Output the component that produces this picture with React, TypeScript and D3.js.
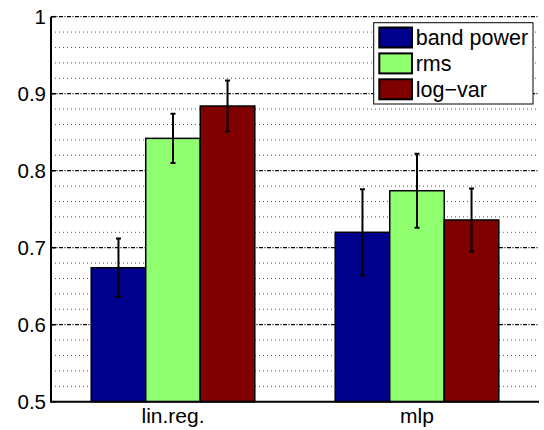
import React, { useRef, useEffect } from "react";
import * as d3 from "d3";

const categories = ["lin.reg.", "mlp"];
const seriesNames = ["band power", "rms", "log\u2212var"];
const seriesColors = ["#00008f", "#8fff70", "#800000"];

const bandPower = [0.674, 0.72];
const bandPowerErr = [0.038, 0.056];
const rms = [0.842, 0.774];
const rmsErr = [0.032, 0.048];
const logVar = [0.884, 0.736];
const logVarErr = [0.033, 0.041];

const yTicks = [0.5, 0.6, 0.7, 0.8, 0.9, 1];
const yMinorTicks = d3.range(0.52, 1.0, 0.02).filter((v) => Math.abs(v * 10 - Math.round(v * 10)) > 0.01);

const series = [
  { name: seriesNames[0], color: seriesColors[0], values: bandPower, errs: bandPowerErr },
  { name: seriesNames[1], color: seriesColors[1], values: rms, errs: rmsErr },
  { name: seriesNames[2], color: seriesColors[2], values: logVar, errs: logVarErr },
];

const FONT = "'Liberation Sans', Helvetica, Arial, sans-serif";

const BarChart = ({ width = 544, height = 430 }) => {
  const svgRef = useRef(null);

  useEffect(() => {
    const margin = { left: 51, top: 16.7, right: 5, bottom: 28.3 };
    const x = d3.scaleLinear().domain([0.5, categories.length + 0.5]).range([margin.left, width - margin.right]);
    const y = d3.scaleLinear().domain([0.5, 1]).range([height - margin.bottom, margin.top]);
    const barW = 0.2235;

    const svg = d3.select(svgRef.current);
    svg.selectAll("*").remove();

    // minor grid
    svg
      .append("g")
      .selectAll("line")
      .data(yMinorTicks)
      .enter()
      .append("line")
      .attr("x1", x.range()[0])
      .attr("x2", x.range()[1])
      .attr("y1", (d) => y(d))
      .attr("y2", (d) => y(d))
      .attr("stroke", "#555")
      .attr("stroke-width", 1)
      .attr("stroke-dasharray", "1,3");

    // major grid
    svg
      .append("g")
      .selectAll("line")
      .data(yTicks.slice(1))
      .enter()
      .append("line")
      .attr("x1", x.range()[0])
      .attr("x2", x.range()[1])
      .attr("y1", (d) => y(d))
      .attr("y2", (d) => y(d))
      .attr("stroke", "#000")
      .attr("stroke-width", 1.2)
      .attr("stroke-dasharray", "4,1.5,1,1.5");

    // bars
    series.forEach((s, si) => {
      const g = svg.append("g");
      g.selectAll("rect")
        .data(s.values)
        .enter()
        .append("rect")
        .attr("x", (d, i) => x(i + 1 + (si - 1.5) * barW))
        .attr("width", x(barW) - x(0))
        .attr("y", (d) => y(d))
        .attr("height", (d) => y(0.5) - y(d))
        .attr("fill", s.color)
        .attr("stroke", "#000")
        .attr("stroke-width", 1.5);

      const cx = (i) => x(i + 1 + (si - 1) * barW);
      g.selectAll("path.err")
        .data(s.values)
        .enter()
        .append("path")
        .attr("class", "err")
        .attr("d", (d, i) => {
          const c = cx(i);
          const t = y(d + s.errs[i]);
          const b = y(d - s.errs[i]);
          return `M${c},${t}V${b}M${c - 2.5},${t}H${c + 2.5}M${c - 2.5},${b}H${c + 2.5}`;
        })
        .attr("fill", "none")
        .attr("stroke", "#000")
        .attr("stroke-width", 2);
    });

    // axes
    const axisG = svg.append("g");
    axisG
      .append("line")
      .attr("x1", x.range()[0])
      .attr("x2", x.range()[1])
      .attr("y1", y(0.5))
      .attr("y2", y(0.5))
      .attr("stroke", "#000")
      .attr("stroke-width", 2);
    axisG
      .append("line")
      .attr("x1", x.range()[0])
      .attr("x2", x.range()[0])
      .attr("y1", y(0.5) + 1)
      .attr("y2", y(1))
      .attr("stroke", "#000")
      .attr("stroke-width", 2);
    axisG
      .selectAll("line.tick")
      .data(yTicks)
      .enter()
      .append("line")
      .attr("class", "tick")
      .attr("x1", x.range()[0])
      .attr("x2", x.range()[0] + 5)
      .attr("y1", (d) => y(d))
      .attr("y2", (d) => y(d))
      .attr("stroke", "#000")
      .attr("stroke-width", 1.5);

    axisG
      .selectAll("text.ylab")
      .data(yTicks)
      .enter()
      .append("text")
      .attr("class", "ylab")
      .attr("x", x.range()[0] - 5)
      .attr("y", (d) => y(d))
      .attr("dy", "0.36em")
      .attr("text-anchor", "end")
      .attr("font-family", FONT)
      .attr("font-size", 20.5)
      .text((d) => d3.format("~g")(d));

    axisG
      .selectAll("text.xlab")
      .data(categories)
      .enter()
      .append("text")
      .attr("class", "xlab")
      .attr("x", (d, i) => x(i + 1))
      .attr("y", 423)
      .attr("text-anchor", "middle")
      .attr("font-family", FONT)
      .attr("font-size", 21)
      .text((d) => d);

    // legend
    const leg = svg.append("g").attr("transform", "translate(373.7,22.7)");
    leg
      .append("rect")
      .attr("width", 159.3)
      .attr("height", 81.3)
      .attr("fill", "#fff")
      .attr("stroke", "#000")
      .attr("stroke-width", 1);
    series.forEach((s, i) => {
      const cy = 14.8 + i * 25.9;
      leg
        .append("rect")
        .attr("x", 5.6)
        .attr("y", cy - 10)
        .attr("width", 32.7)
        .attr("height", 20)
        .attr("fill", s.color)
        .attr("stroke", "#000")
        .attr("stroke-width", 2);
      leg
        .append("text")
        .attr("x", 42)
        .attr("y", cy)
        .attr("dy", "0.36em")
        .attr("font-family", FONT)
        .attr("font-size", 21.5)
        .text(s.name);
    });
  }, []);

  return (
    <svg
      ref={svgRef}
      width={width}
      height={height}
      style={{ position: "absolute", left: 0, top: 0, background: "#fff" }}
    />
  );
};

export default function App() {
  return <BarChart />;
}
